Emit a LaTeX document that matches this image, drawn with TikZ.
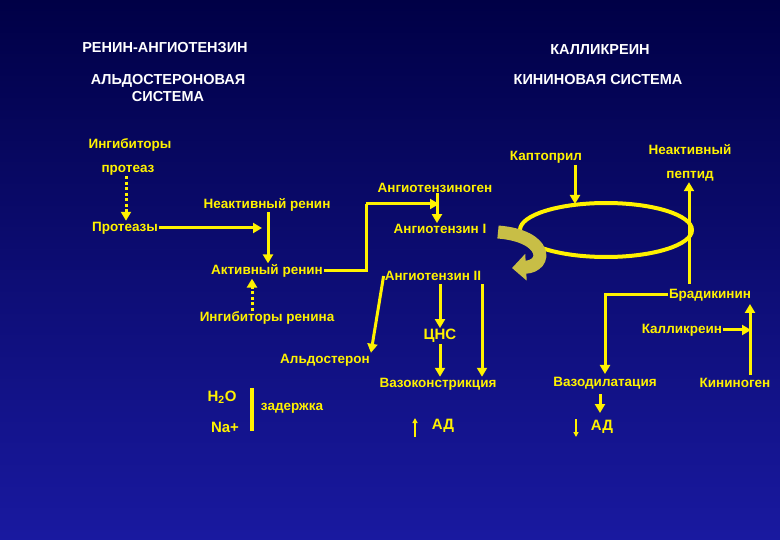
\documentclass[tikz,border=0pt]{standalone}
\usepackage{fontspec}
\setmainfont{Liberation Sans}
\usetikzlibrary{arrows.meta}
\begin{document}
\begin{tikzpicture}[x=1pt,y=-1pt,
  t/.style={font=\bfseries\fontsize{14.5}{17}\selectfont,text=white,align=center},
  l/.style={font=\bfseries\fontsize{13.5}{15}\selectfont,text=yellow,inner sep=1pt},
  lb/.style={l,font=\bfseries\fontsize{15}{17}\selectfont},
  ln/.style={draw=yellow,line width=3pt},
  ar/.style={ln,-{Triangle[length=9pt,width=10pt]}},
  dt/.style={ar,dash pattern=on 3pt off 2.5pt}]
\shade[top color={rgb,255:red,0;green,0;blue,70},bottom color={rgb,255:red,25;green,25;blue,160}] (0,0) rectangle (780,540);
\useasboundingbox (0,0) rectangle (780,540);
\node[t] (r1) at (165,48) {РЕНИН-АНГИОТЕНЗИН};
\node[t] (k1) at (600,50) {КАЛЛИКРЕИН};
\node[t] (r2) at (168,88) {АЛЬДОСТЕРОНОВАЯ\\СИСТЕМА};
\node[t] (k2) at (598,80) {КИНИНОВАЯ СИСТЕМА};
\node[l] (ing) at (130,145) {Ингибиторы};
\node[l] (prt) at (128,170) {протеаз};
\node[l] (prz) at (125,228) {Протеазы};
\node[l] (nr) at (267,205) {Неактивный ренин};
\node[l] (ar) at (267,271) {Активный ренин};
\node[l] (ir) at (267,318) {Ингибиторы ренина};
\node[l] (agn) at (435,188) {Ангиотензиноген};
\node[l] (a1) at (440,229) {Ангиотензин I};
\node[l] (a2) at (433,276) {Ангиотензин II};
\node[lb] (cns) at (440,336) {ЦНС};
\node[l] (ald) at (325,360) {Альдостерон};
\node[l] (vk) at (438,384) {Вазоконстрикция};
\node[lb] (h2o) at (222,397) {H\textsubscript{2}O};
\node[lb] (na) at (225,427) {Na+};
\node[l] (zd) at (292,408) {задержка};
\node[lb] (ad1) at (443,426) {АД};
\node[l] (kap) at (546,157) {Каптоприл};
\node[l] (np1) at (690,150) {Неактивный};
\node[l] (np2) at (690,176) {пептид};
\node[l] (brd) at (710,295) {Брадикинин};
\node[l] (kal) at (682,330) {Калликреин};
\node[l] (kin) at (735,383) {Кининоген};
\node[l] (vd) at (605,383) {Вазодилатация};
\node[lb] (ad2) at (602,427) {АД};
\draw[yellow,line width=4pt] (606,230) ellipse (86 and 27);
\coordinate (c1) at (366,271);
\coordinate (c2) at (366,204);
\draw[dt] (prt.south -| 126,0) -- (prz.north -| 126,0);
\draw[ar] (prz.east) -- (262,228);
\draw[ar] (268,212) -- (ar.north -| 268,0);
\draw[ln] (ar.east) -- (c1) -- (c2);
\draw[ar] (c2) -- (439,204);
\draw[ar] (437,193) -- (a1.north -| 437,0);
\draw[dt] (252,311) -- (ar.south -| 252,0);
\draw[ar] (a2.west) -- (ald.north east);
\draw[ar] (440,284) -- (cns.north);
\draw[ar] (cns.south) -- (vk.north -| 440,0);
\draw[ar] (482,284) -- (vk.north -| 482,0);
\draw[draw=yellow,line width=4pt] (252,388) -- (252,431);
\draw[yellow,line width=1.5pt,-{Triangle[length=5pt,width=5pt]}] (415,437) -- (415,418);
\draw[yellow,line width=1.5pt,-{Triangle[length=5pt,width=5pt]}] (576,419) -- (576,437);
\draw[ar] (600,394) -- (600,413);
\draw[ar] (575,165) -- (575,204);
\draw[ar] (689,284) -- (np2.south -| 689,0);
\draw[ar] (brd.west) -| (605,374);
\draw[ar] (kal.east) -- (751,330);
\draw[ar] (750,375) -- (750,304);
\draw[draw={rgb,255:red,200;green,190;blue,70},line width=13pt,-{Triangle[length=14pt,width=26pt]}] (498,232) .. controls (548,236) and (548,266) .. (512,268);
\end{tikzpicture}
\end{document}
